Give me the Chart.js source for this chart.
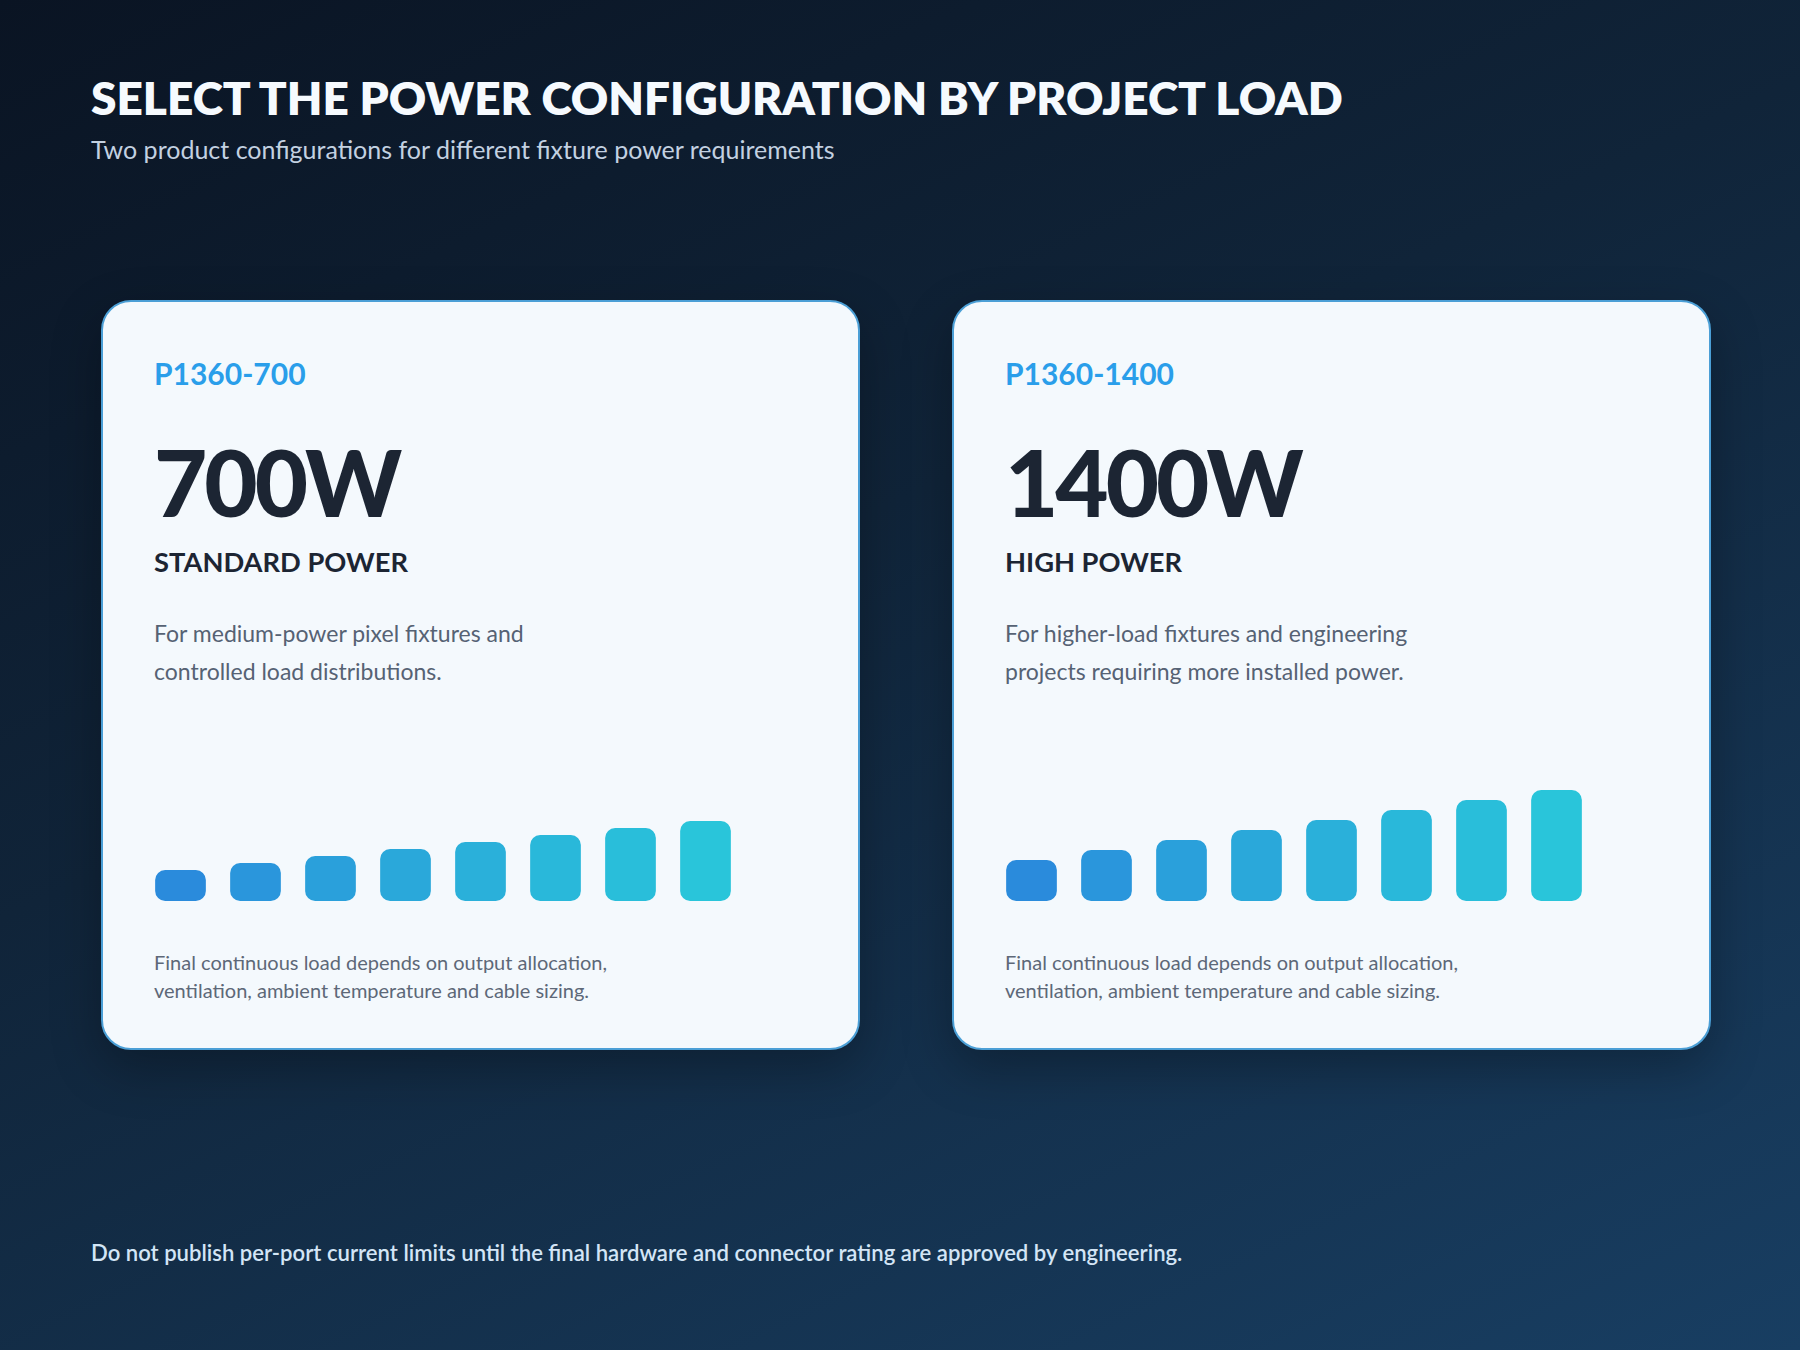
<!DOCTYPE html>
<html>
<head>
<meta charset="utf-8">
<script src="https://cdn.jsdelivr.net/npm/chart.js@4.4.1/dist/chart.umd.min.js"></script>
<style>
    html, body { margin: 0; padding: 0; }
    body {
        width: 1800px;
        height: 1350px;
        position: relative;
        overflow: hidden;
        font-family: Lato, "Noto Sans", sans-serif;
        background: linear-gradient(155deg, #0a1423 0%, #102439 42%, #183e62 100%);
    }
    .abs { position: absolute; line-height: 1; white-space: nowrap; }
    #title { left: 91px; top: 75px; font-size: 46px; font-weight: 800; color: #f6fafe; }
    #subtitle { left: 91px; top: 137px; font-size: 25px; color: #c3d1e1; }
    #note { left: 91px; top: 1242px; font-size: 22.1px; font-weight: 600; color: #d3e5f6; }

    .card {
        position: absolute;
        top: 300px;
        width: 759px;
        height: 750px;
        box-sizing: border-box;
        border: 2.5px solid #4b9fd6;
        border-radius: 30px;
        background: #f4f9fd;
        box-shadow: 0 18px 50px rgba(0, 0, 0, 0.28);
    }
    .card .abs { left: 51px; }
    .model { top: 56px; font-size: 30px; font-weight: 700; color: #2a9eea; }
    .watts { top: 134px; font-size: 92px; font-weight: 900; color: #1c2533; letter-spacing: -3px; }
    .tier { top: 246px; font-size: 27.3px; font-weight: 700; color: #1c2533; }
    .desc { top: 312px; font-size: 23px; line-height: 38px; color: #566274; }
    .foot { top: 647px; font-size: 20px; line-height: 27.5px; color: #5d6878; }
    .bars { position: absolute; left: 39.5px; top: 478.5px; width: 600px; height: 120px; }
</style>
</head>
<body>

<div id="title" class="abs">SELECT THE POWER CONFIGURATION BY PROJECT LOAD</div>
<div id="subtitle" class="abs">Two product configurations for different fixture power requirements</div>

<div class="card" style="left:101px">
    <div class="abs model">P1360-700</div>
    <div class="abs watts">700W</div>
    <div class="abs tier">STANDARD POWER</div>
    <div class="abs desc">For medium-power pixel fixtures and<br>controlled load distributions.</div>
    <div class="bars"><canvas id="chartStandard"></canvas></div>
    <div class="abs foot">Final continuous load depends on output allocation,<br>ventilation, ambient temperature and cable sizing.</div>
</div>

<div class="card" style="left:952px">
    <div class="abs model">P1360-1400</div>
    <div class="abs watts">1400W</div>
    <div class="abs tier">HIGH POWER</div>
    <div class="abs desc">For higher-load fixtures and engineering<br>projects requiring more installed power.</div>
    <div class="bars"><canvas id="chartHigh"></canvas></div>
    <div class="abs foot">Final continuous load depends on output allocation,<br>ventilation, ambient temperature and cable sizing.</div>
</div>

<div id="note" class="abs">Do not publish per-port current limits until the final hardware and connector rating are approved by engineering.</div>

<script>
// ================= DATA =================
// load steps across the outputs, relative load units
const loadSteps = ["1", "2", "3", "4", "5", "6", "7", "8"];
const standardLoad = [31, 38, 45, 52, 59, 66, 73, 80];
const highLoad = [41, 51, 61, 71, 81, 91, 101, 111];
const loadAxisMax = 120;

// bar colours, blue to cyan
const barColors = ["#2a8bdc", "#2a96dc", "#2aa0db", "#2aa8da", "#2ab0da", "#29b8da", "#29beda", "#29c5da"];


// ================= BAR CHARTS =================
function makeBars(canvasId, values){

    return new Chart(document.getElementById(canvasId), {
        type: "bar",
        data: {
            labels: loadSteps,
            datasets: [{
                data: values,
                backgroundColor: barColors,
                borderRadius: 10,
                borderSkipped: false,
                categoryPercentage: 1,
                barPercentage: 0.676
            }]
        },
        options: {
            responsive: true,
            maintainAspectRatio: false,
            animation: false,
            layout: { padding: 0 },
            plugins: {
                legend: { display: false },
                tooltip: { enabled: false }
            },
            scales: {
                x: { display: false },
                y: { display: false, min: 0, max: loadAxisMax }
            }
        }
    });
}

makeBars("chartStandard", standardLoad);
makeBars("chartHigh", highLoad);
</script>
</body>
</html>
